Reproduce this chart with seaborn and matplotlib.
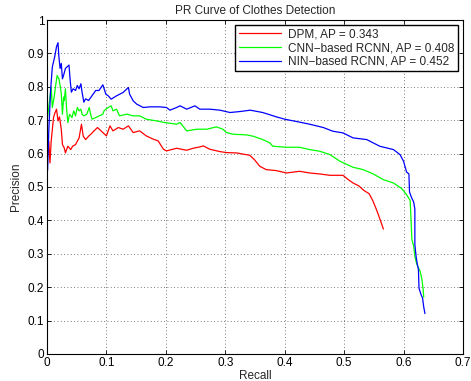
import numpy as np
import pandas as pd
import matplotlib
matplotlib.use("Agg")
import matplotlib.pyplot as plt
from matplotlib.ticker import FuncFormatter
import seaborn as sns

dpm_recall = [0.001, 0.003, 0.005, 0.007, 0.011, 0.013, 0.016, 0.0185, 0.021, 0.024,
              0.026, 0.029, 0.031, 0.035, 0.040, 0.043, 0.048, 0.054, 0.058, 0.061,
              0.065, 0.070, 0.076, 0.079, 0.085, 0.091, 0.094, 0.100, 0.106, 0.111,
              0.120, 0.128, 0.137, 0.145, 0.156, 0.167, 0.179, 0.187, 0.196, 0.201,
              0.218, 0.235, 0.246, 0.257, 0.263, 0.274, 0.291, 0.302, 0.319, 0.341,
              0.349, 0.358, 0.369, 0.386, 0.403, 0.425, 0.442, 0.459, 0.476, 0.498,
              0.507, 0.515, 0.525, 0.533, 0.542, 0.548, 0.554, 0.558, 0.561, 0.563, 0.566]
dpm_precision = [0.597, 0.637, 0.572, 0.637, 0.708, 0.720, 0.733, 0.698, 0.710, 0.673,
                 0.627, 0.617, 0.602, 0.622, 0.612, 0.622, 0.627, 0.647, 0.688, 0.652,
                 0.642, 0.652, 0.662, 0.668, 0.678, 0.668, 0.663, 0.653, 0.683, 0.668,
                 0.678, 0.673, 0.683, 0.663, 0.668, 0.653, 0.643, 0.638, 0.613, 0.608,
                 0.616, 0.610, 0.616, 0.620, 0.623, 0.613, 0.606, 0.603, 0.602, 0.595,
                 0.582, 0.562, 0.552, 0.549, 0.542, 0.547, 0.542, 0.539, 0.535, 0.535,
                 0.522, 0.512, 0.503, 0.490, 0.480, 0.460, 0.434, 0.415, 0.400, 0.390, 0.374]

cnn_recall = [0.001, 0.005, 0.007, 0.009, 0.012, 0.015, 0.017, 0.020, 0.022, 0.024,
              0.026, 0.028, 0.029, 0.031, 0.033, 0.035, 0.038, 0.042, 0.045, 0.048,
              0.051, 0.054, 0.057, 0.059, 0.062, 0.067, 0.071, 0.074, 0.076, 0.082,
              0.088, 0.094, 0.096, 0.099, 0.103, 0.108, 0.111, 0.117, 0.122, 0.134,
              0.145, 0.156, 0.167, 0.184, 0.198, 0.218, 0.224, 0.235, 0.252, 0.269,
              0.285, 0.296, 0.302, 0.313, 0.336, 0.347, 0.363, 0.375, 0.380, 0.403,
              0.425, 0.442, 0.459, 0.476, 0.493, 0.515, 0.532, 0.549, 0.566, 0.583,
              0.597, 0.605, 0.611, 0.612, 0.614, 0.617, 0.619, 0.622, 0.628, 0.631,
              0.633, 0.634]
cnn_precision = [0.710, 0.769, 0.799, 0.738, 0.769, 0.809, 0.834, 0.824, 0.804, 0.780,
                 0.718, 0.769, 0.759, 0.794, 0.734, 0.693, 0.718, 0.708, 0.728, 0.713,
                 0.738, 0.728, 0.733, 0.718, 0.713, 0.718, 0.738, 0.713, 0.703, 0.708,
                 0.713, 0.718, 0.728, 0.733, 0.738, 0.743, 0.728, 0.733, 0.713, 0.718,
                 0.713, 0.713, 0.703, 0.698, 0.693, 0.688, 0.693, 0.668, 0.673, 0.673,
                 0.680, 0.673, 0.663, 0.658, 0.656, 0.652, 0.642, 0.632, 0.622, 0.619,
                 0.619, 0.612, 0.607, 0.597, 0.577, 0.559, 0.552, 0.539, 0.522, 0.512,
                 0.495, 0.477, 0.460, 0.424, 0.343, 0.323, 0.293, 0.270, 0.247, 0.222,
                 0.192, 0.170]

nin_recall = [0.001, 0.003, 0.006, 0.009, 0.013, 0.016, 0.0185, 0.020, 0.022, 0.024,
              0.026, 0.028, 0.031, 0.034, 0.037, 0.039, 0.041, 0.044, 0.048, 0.051,
              0.054, 0.057, 0.059, 0.062, 0.065, 0.070, 0.076, 0.082, 0.0875, 0.094,
              0.099, 0.103, 0.108, 0.117, 0.128, 0.137, 0.139, 0.145, 0.151, 0.162,
              0.173, 0.190, 0.201, 0.207, 0.218, 0.224, 0.235, 0.249, 0.257, 0.274,
              0.291, 0.308, 0.325, 0.342, 0.363, 0.386, 0.400, 0.420, 0.442, 0.465,
              0.481, 0.498, 0.515, 0.538, 0.560, 0.583, 0.594, 0.600, 0.605, 0.609,
              0.610, 0.613, 0.617, 0.619, 0.619, 0.621, 0.623, 0.625, 0.626, 0.629,
              0.632, 0.634, 0.636]
nin_precision = [0.550, 0.668, 0.789, 0.860, 0.890, 0.920, 0.932, 0.890, 0.855, 0.870,
                 0.824, 0.835, 0.855, 0.860, 0.865, 0.819, 0.784, 0.794, 0.789, 0.804,
                 0.794, 0.809, 0.784, 0.754, 0.764, 0.759, 0.774, 0.789, 0.789, 0.806,
                 0.778, 0.773, 0.763, 0.773, 0.783, 0.798, 0.778, 0.758, 0.748, 0.738,
                 0.740, 0.740, 0.738, 0.730, 0.738, 0.743, 0.733, 0.743, 0.733, 0.733,
                 0.730, 0.723, 0.726, 0.730, 0.723, 0.710, 0.703, 0.696, 0.688, 0.678,
                 0.667, 0.662, 0.647, 0.642, 0.622, 0.612, 0.597, 0.577, 0.545, 0.539,
                 0.485, 0.470, 0.455, 0.434, 0.328, 0.293, 0.270, 0.253, 0.197, 0.180,
                 0.167, 0.140, 0.121]

labels = ["DPM, AP = 0.343", "CNN\u2212based RCNN, AP = 0.408", "NIN\u2212based RCNN, AP = 0.452"]
colors = ["#ff0000", "#00ff00", "#0000ff"]
x_ticks = [0, 0.1, 0.2, 0.3, 0.4, 0.5, 0.6, 0.7]
y_ticks = [0, 0.1, 0.2, 0.3, 0.4, 0.5, 0.6, 0.7, 0.8, 0.9, 1]

frames = []
for lab, r, p in zip(labels, [dpm_recall, cnn_recall, nin_recall],
                     [dpm_precision, cnn_precision, nin_precision]):
    frames.append(pd.DataFrame({"Recall": r, "Precision": p, "method": lab,
                                "order": np.arange(len(r))}))
df = pd.concat(frames, ignore_index=True)

sns.set_style("ticks")
plt.rcParams["font.family"] = ["Liberation Sans", "DejaVu Sans"]
plt.rcParams["xtick.direction"] = "in"
plt.rcParams["ytick.direction"] = "in"

fig = plt.figure(figsize=(4.71, 3.81), dpi=100)
ax = fig.add_axes([0.0998, 0.0709, 0.8832, 0.8766])

sns.lineplot(data=df, x="Recall", y="Precision", hue="method", hue_order=labels,
             palette=colors, estimator=None, sort=False, units="method",
             linewidth=0.9, ax=ax)

ax.set_xlim(0, 0.7)
ax.set_ylim(0, 1)
ax.set_xticks(x_ticks)
ax.set_yticks(y_ticks)
fmt = FuncFormatter(lambda v, pos: "%g" % round(v, 2))
ax.xaxis.set_major_formatter(fmt)
ax.yaxis.set_major_formatter(fmt)
ax.tick_params(labelsize=8.5, length=3, width=0.6, top=True, right=True, pad=2,
               colors="black")
ax.grid(True, linestyle=(0, (1, 3)), color="black", linewidth=0.6, alpha=0.7)
for s in ax.spines.values():
    s.set_visible(True)
    s.set_linewidth(0.8)
    s.set_color("black")

ax.set_xlabel("Recall", fontsize=8.5, labelpad=1)
ax.set_ylabel("Precision", fontsize=8.5, labelpad=4)
ax.set_title("PR Curve of Clothes Detection", fontsize=8.5, pad=4)

leg = ax.legend(loc="upper right", fontsize=8.5, frameon=True, fancybox=False,
                edgecolor="black", framealpha=1, handlelength=3.6,
                borderaxespad=0.4, borderpad=0.3, labelspacing=0.15,
                handletextpad=0.6)
leg.get_frame().set_linewidth(1.0)

fig.savefig("out.png", dpi=100)
